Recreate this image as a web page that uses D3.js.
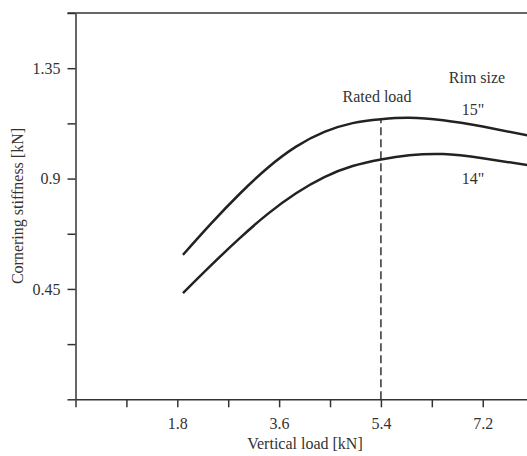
<!DOCTYPE html>
<html>
<head>
<meta charset="utf-8">
<script src="https://cdn.jsdelivr.net/npm/d3@7"></script>
<style>
  body { margin: 0; background: #fff; }
  svg text { font-family: "Liberation Serif", "DejaVu Serif", serif; fill: #333; }
  .axis path, .axis line { stroke: #333; stroke-width: 1.5px; }
  .axis text { font-size: 16px; }
</style>
</head>
<body>
<div id="chart"></div>
<script>
// vertical load [kN]
var loads = [1.9, 2.4, 2.9, 3.4, 3.9, 4.4, 4.9, 5.4, 5.9, 6.5, 7.2, 8.1];
// cornering stiffness [kN] for each rim size
var rim15 = [0.589, 0.717, 0.837, 0.944, 1.030, 1.090, 1.126, 1.142, 1.148, 1.138, 1.112, 1.071];
var rim14 = [0.433, 0.547, 0.656, 0.756, 0.840, 0.906, 0.951, 0.978, 0.995, 1.000, 0.983, 0.951];
var ratedLoad = 5.4;
var xTicks = [0, 0.9, 1.8, 2.7, 3.6, 4.5, 5.4, 6.3, 7.2, 8.1];
var xLabels = [1.8, 3.6, 5.4, 7.2];
var yTicks = [0, 0.225, 0.45, 0.675, 0.9, 1.125, 1.35, 1.575];
var yLabels = [0.45, 0.9, 1.35];

var width = 527, height = 456;
var margin = {top: 13, left: 75.5, bottom: 56.7};

var svg = d3.select('#chart').append('svg')
  .attr('width', width)
  .attr('height', height);

var x = d3.scaleLinear()
  .domain([0, 9])
  .range([margin.left, margin.left + 9 * 56.56]);

var y = d3.scaleLinear()
  .domain([0, 1.575])
  .range([height - margin.bottom, margin.top]);

// top frame line
svg.append('line')
  .attr('x1', margin.left - 8).attr('x2', width + 10)
  .attr('y1', y(1.575)).attr('y2', y(1.575))
  .attr('stroke', '#333').attr('stroke-width', 1.5);

var xAxis = svg.append('g')
  .attr('class', 'axis')
  .attr('transform', 'translate(0,' + y(0) + ')')
  .call(d3.axisBottom(x).tickValues(xTicks).tickSize(8).tickSizeOuter(0)
    .tickFormat(function(d) { return xLabels.indexOf(d) >= 0 ? String(d) : ''; }));
xAxis.selectAll('.tick text').attr('y', 18);

var yAxis = svg.append('g')
  .attr('class', 'axis')
  .attr('transform', 'translate(' + margin.left + ',0)')
  .call(d3.axisLeft(y).tickValues(yTicks).tickSize(8).tickSizeOuter(0)
    .tickFormat(function(d) { return yLabels.indexOf(d) >= 0 ? String(d) : ''; }));
yAxis.selectAll('.tick text').attr('x', -15);

// rated load marker
svg.append('line')
  .attr('x1', x(ratedLoad)).attr('x2', x(ratedLoad))
  .attr('y1', y(0)).attr('y2', y(1.142))
  .attr('stroke', '#333')
  .attr('stroke-width', 1.5)
  .attr('stroke-dasharray', '8,4');

var line = d3.line()
  .x(function(d) { return x(d[0]); })
  .y(function(d) { return y(d[1]); })
  .curve(d3.curveNatural);

[rim15, rim14].forEach(function(series) {
  svg.append('path')
    .datum(loads.map(function(l, i) { return [l, series[i]]; }))
    .attr('d', line)
    .attr('fill', 'none')
    .attr('stroke', '#222')
    .attr('stroke-width', 2.5);
});

var labels = [
  {text: 'Rated load', x: 377, y: 102},
  {text: 'Rim size', x: 477, y: 83},
  {text: '15"', x: 473, y: 115},
  {text: '14"', x: 473, y: 184},
  {text: 'Vertical load [kN]', x: 305, y: 449}
];

svg.selectAll('.label')
  .data(labels)
  .enter().append('text')
  .attr('class', 'label')
  .attr('x', function(d) { return d.x; })
  .attr('y', function(d) { return d.y; })
  .attr('text-anchor', 'middle')
  .style('font-size', '16px')
  .text(function(d) { return d.text; });

svg.append('text')
  .attr('transform', 'translate(23,206) rotate(-90)')
  .attr('text-anchor', 'middle')
  .style('font-size', '16px')
  .text('Cornering stiffness [kN]');
</script>
</body>
</html>
